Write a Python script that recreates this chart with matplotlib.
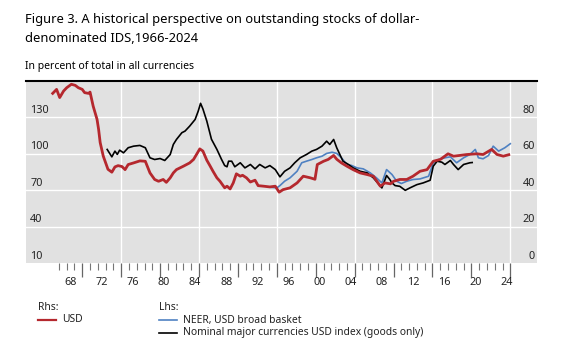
import matplotlib
matplotlib.use("Agg")
import matplotlib.pyplot as plt
from matplotlib.lines import Line2D
from matplotlib.transforms import blended_transform_factory

plt.rcParams['font.family'] = ['Noto Sans', 'DejaVu Sans']

# USD share of outstanding international debt securities, % (right-hand scale)
usd_years = [1966.2, 1966.7, 1967.1, 1967.6, 1968.0, 1968.6, 1969.1, 1969.5, 1970.0, 1970.3,
             1970.8, 1971.0, 1971.4, 1971.9, 1972.1, 1972.3, 1972.7, 1973.3, 1973.8, 1974.2,
             1974.6, 1975.1, 1975.5, 1975.9, 1976.6, 1977.4, 1978.1, 1978.7, 1979.3, 1979.8,
             1980.4, 1980.8, 1981.3, 1981.7, 1982.1, 1983.0, 1983.8, 1984.3, 1984.8, 1985.1,
             1985.5, 1986.0, 1986.4, 1986.8, 1987.3, 1987.7, 1988.3, 1988.6, 1989.0, 1989.4,
             1989.8, 1990.3, 1990.6, 1991.1, 1991.6, 1992.2, 1992.6, 1993.3, 1994.1, 1994.8,
             1995.3, 1995.8, 1996.7, 1997.6, 1998.4, 1999.3, 1999.9, 2000.2, 2001.0, 2001.6,
             2002.3, 2002.7, 2003.3, 2004.0, 2004.8, 2005.7, 2006.6, 2007.4, 2008.3, 2008.9,
             2009.6, 2010.0, 2010.8, 2011.7, 2012.5, 2013.4, 2014.3, 2015.1, 2016.0, 2017.0,
             2017.7, 2018.5, 2019.4, 2020.7, 2021.5, 2022.6, 2023.3, 2024.1, 2024.8]
usd_share = [93.2, 95.4, 90.9, 94.5, 96.3, 98.2, 97.6, 96.3, 95.4, 93.6,
             93.2, 93.9, 86.2, 78.9, 73.4, 66.2, 58.7, 51.5, 49.9, 52.8,
             53.5, 53.0, 51.3, 54.1, 55.0, 56.1, 55.9, 49.5, 45.9, 44.9,
             45.9, 44.3, 46.8, 49.5, 51.3, 53.2, 55.0, 56.9, 60.5, 62.7,
             61.5, 56.5, 53.5, 50.4, 46.8, 44.9, 41.3, 42.2, 40.7, 44.0,
             49.0, 47.7, 48.2, 46.8, 44.5, 45.5, 42.5, 42.2, 41.8, 42.2,
             38.9, 40.3, 41.3, 44.0, 47.7, 46.8, 46.0, 54.1, 55.9, 56.9,
             59.1, 57.0, 55.0, 53.2, 51.3, 49.5, 48.6, 47.7, 42.2, 44.0,
             43.5, 44.9, 45.9, 45.9, 47.7, 50.4, 51.3, 55.9, 56.9, 60.0,
             58.7, 59.1, 59.6, 60.0, 59.6, 62.4, 59.6, 58.7, 59.5]

# Nominal major currencies USD index, goods only (left-hand scale)
major_years = [1973.2, 1973.8, 1974.2, 1974.5, 1974.8, 1975.3, 1975.9, 1976.6, 1977.4, 1978.1,
               1978.7, 1979.3, 1980.0, 1980.6, 1981.3, 1981.7, 1982.1, 1982.8, 1983.2, 1983.8,
               1984.5, 1984.9, 1985.2, 1985.5, 1986.0, 1986.6, 1987.3, 1987.9, 1988.3, 1988.6,
               1988.8, 1989.2, 1989.6, 1990.3, 1990.9, 1991.6, 1992.2, 1992.8, 1993.5, 1994.1,
               1994.8, 1995.4, 1996.0, 1996.7, 1997.3, 1998.0, 1998.8, 1999.5, 2000.1, 2000.8,
               2001.4, 2001.8, 2002.3, 2002.7, 2003.1, 2003.5, 2004.2, 2004.8, 2005.7, 2006.6,
               2007.4, 2008.5, 2009.1, 2009.5, 2009.8, 2010.2, 2010.8, 2011.5, 2012.1, 2013.0,
               2013.8, 2014.7, 2015.1, 2015.6, 2016.2, 2016.6, 2017.3, 2017.7, 2018.3, 2019.0,
               2019.8, 2020.1]
major_index = [103.6, 97.5, 102.2, 99.5, 103.0, 100.8, 105.0, 106.3, 106.9, 105.0,
               96.7, 95.3, 96.1, 94.5, 99.4, 107.7, 111.8, 117.4, 118.7, 122.8,
               128.3, 135.2, 141.6, 137.0, 127.0, 112.0, 103.6, 95.3, 90.3, 89.3,
               93.9, 93.9, 89.3, 92.6, 88.4, 91.2, 87.6, 91.2, 88.4, 90.3,
               87.0, 81.0, 85.6, 88.4, 92.6, 96.7, 99.4, 102.2, 103.6, 106.3,
               110.4, 107.7, 111.8, 104.9, 99.4, 93.9, 91.2, 88.4, 85.6, 84.3,
               80.2, 71.9, 82.1, 79.0, 76.0, 73.8, 73.2, 69.9, 71.9, 74.6,
               76.0, 78.2, 89.8, 93.9, 93.1, 91.2, 94.5, 91.2, 87.0, 91.2,
               92.6, 92.8]

# NEER, USD broad basket (left-hand scale)
neer_years = [1994.2, 1995.0, 1995.4, 1996.0, 1996.7, 1997.6, 1998.2, 1998.8, 1999.5, 2000.1,
              2000.8, 2001.4, 2002.1, 2002.7, 2003.3, 2004.0, 2004.6, 2005.3, 2006.1, 2007.0,
              2007.8, 2008.5, 2009.1, 2009.8, 2010.4, 2011.0, 2011.7, 2012.5, 2013.4, 2014.5,
              2015.1, 2015.8, 2016.6, 2017.3, 2018.1, 2019.0, 2019.8, 2020.5, 2020.9, 2021.5,
              2022.2, 2022.8, 2023.5, 2024.3, 2025.0]
neer_index = [72.4, 71.9, 73.8, 77.4, 80.2, 85.6, 92.6, 93.9, 95.3, 96.7,
              98.0, 100.3, 101.3, 100.3, 96.7, 91.2, 90.4, 88.4, 87.6, 84.3,
              80.2, 76.0, 87.0, 82.9, 77.4, 75.5, 77.4, 78.8, 79.3, 81.5,
              92.6, 95.3, 96.7, 97.5, 92.6, 96.7, 99.4, 103.6, 96.7, 95.9,
              98.6, 106.3, 102.2, 105.0, 108.3]

lhs_ticks = [10, 40, 70, 100, 130]
rhs_ticks = [0, 20, 40, 60, 80]
year_labels = [1968, 1972, 1976, 1980, 1984, 1988, 1992, 1996, 2000, 2004,
               2008, 2012, 2016, 2020, 2024]

RED = '#b5282e'
BLUE = '#4f81c2'
BG = '#e1e1e1'
TXT = '#222222'

W, H = 580, 343
fig = plt.figure(figsize=(W / 100, H / 100), dpi=100)
ax_l, ax_r, ax_t, ax_b = 26, 537, 81, 263
ax = fig.add_axes([ax_l / W, 1 - ax_b / H, (ax_r - ax_l) / W, (ax_b - ax_t) / H])
ax.set_facecolor(BG)
ax.set_xlim(1962.77, 2028.43)
ax.set_ylim(10, 160)

for s in ['left', 'right', 'bottom']:
    ax.spines[s].set_visible(False)
ax.spines['top'].set_color('black')
ax.spines['top'].set_linewidth(1.5)

# white grid
for v in lhs_ticks[1:]:
    ax.axhline(v, color='white', lw=1.0, zorder=1)
for yr in range(1975, 2026, 10):
    ax.axvline(yr, color='white', lw=1.0, zorder=1)

# x ticks: 5-year majors, yearly minors, two-digit labels centred on mid-year
ax.set_xticks(list(range(1970, 2026, 5)))
ax.set_xticks([y for y in range(1967, 2025) if y % 5 != 0], minor=True)
ax.tick_params(axis='x', which='major', length=10, width=0.9, color='#666666',
               labelbottom=False)
ax.tick_params(axis='x', which='minor', length=5, width=0.8, color='#777777')
ax.set_yticks([])
tx = blended_transform_factory(ax.transData, ax.transAxes)
for yr in year_labels:
    ax.text(yr + 0.5, -0.105, f"{yr % 100:02d}", transform=tx, ha='center', va='center',
            fontsize=7.8, color=TXT)

ty = blended_transform_factory(ax.transAxes, ax.transData)
for v in lhs_ticks:
    ax.text(0.008, v + 1.2, str(v), transform=ty, ha='left', va='bottom',
            fontsize=7.8, color=TXT)

ax.plot(neer_years, neer_index, color=BLUE, lw=1.2, zorder=3)
ax.plot(major_years, major_index, color='black', lw=1.2, zorder=3)

ax2 = ax.twinx()
ax2.set_ylim(0, 100)
ax2.set_yticks([])
for s in ax2.spines.values():
    s.set_visible(False)
ty2 = blended_transform_factory(ax2.transAxes, ax2.transData)
for v in rhs_ticks:
    ax2.text(0.996, v + 0.8, str(v), transform=ty2, ha='right', va='bottom',
             fontsize=7.8, color=TXT)
ax2.plot(usd_years, usd_share, color=RED, lw=2.0, zorder=3)

# titles
fig.text(25 / W, 1 - 20 / H, "Figure 3. A historical perspective on outstanding stocks of dollar-",
         ha='left', va='center', fontsize=9.3, color='black')
fig.text(25 / W, 1 - 39 / H, "denominated IDS,1966-2024",
         ha='left', va='center', fontsize=9.3, color='black')
fig.text(25 / W, 1 - 66 / H, "In percent of total in all currencies",
         ha='left', va='center', fontsize=7.5, color='black')

# legend
def legend_item(x0, y, color, label):
    fig.add_artist(Line2D([x0 / W, (x0 + 18) / W], [1 - y / H, 1 - y / H],
                          color=color, lw=1.6 if color == RED else 1.2))
    fig.text((x0 + 24) / W, 1 - y / H, label, ha='left', va='center',
             fontsize=7.4, color=TXT)

fig.text(38 / W, 1 - 307 / H, "Rhs:", ha='left', va='center', fontsize=7.4, color=TXT)
fig.text(159 / W, 1 - 307 / H, "Lhs:", ha='left', va='center', fontsize=7.4, color=TXT)
legend_item(38, 320, RED, "USD")
legend_item(159, 320, BLUE, "NEER, USD broad basket")
legend_item(159, 333, 'black', "Nominal major currencies USD index (goods only)")

fig.savefig("out.png", dpi=100)
